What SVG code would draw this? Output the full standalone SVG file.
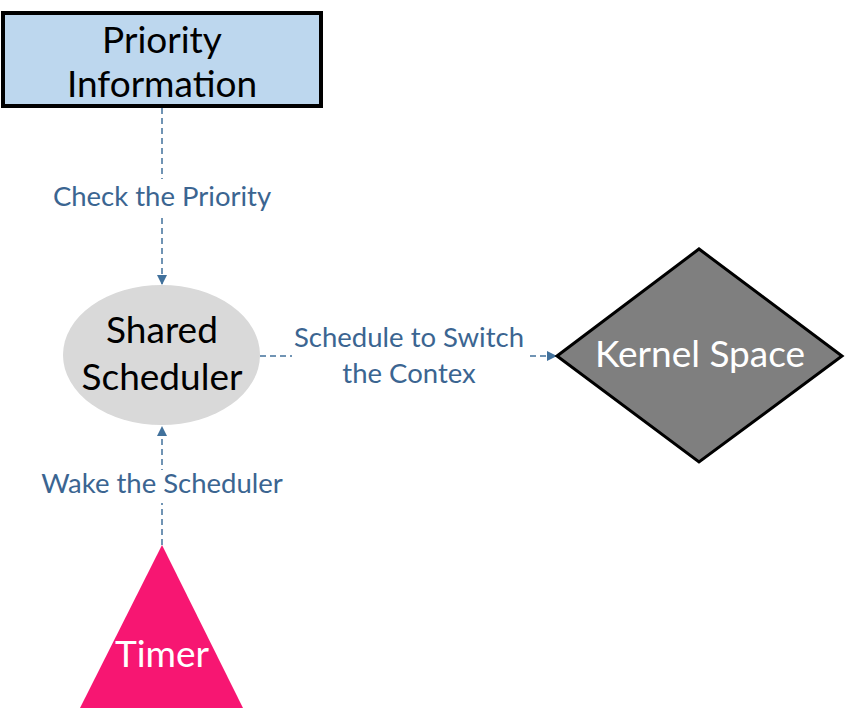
<svg xmlns="http://www.w3.org/2000/svg" width="845" height="710" viewBox="0 0 845 710">
<defs>
<style>
.lbl{font-family:Lato,"Open Sans","Liberation Sans",sans-serif;font-size:27.5px;fill:#3B6591;text-anchor:middle}
.nt{font-family:Lato,"Open Sans","Liberation Sans",sans-serif;font-size:37px;text-anchor:middle}
.conn{fill:none;stroke:#41719C;stroke-width:1.5;stroke-dasharray:6 4}
</style>
<marker id="arr" viewBox="0 0 10 10" refX="10" refY="5" markerWidth="10" markerHeight="10" markerUnits="userSpaceOnUse" orient="auto">
<path d="M0,0 L10,5 L0,10 z" fill="#41719C"/>
</marker>
</defs>
<rect width="845" height="710" fill="#fff"/>
<g id="connectors">
<line class="conn" x1="162" y1="108" x2="162" y2="285" marker-end="url(#arr)"/>
<line class="conn" x1="260" y1="356" x2="557" y2="356" marker-end="url(#arr)"/>
<line class="conn" x1="162" y1="545" x2="162" y2="426" marker-end="url(#arr)"/>
<rect x="50" y="179" width="224" height="38" fill="#fff"/>
<text class="lbl" x="162" y="206">Check the Priority</text>
<rect x="292" y="320" width="234" height="70" fill="#fff"/>
<text class="lbl" x="409" y="347">Schedule to Switch</text>
<text class="lbl" x="409" y="383">the Contex</text>
<rect x="36" y="470" width="252" height="33" fill="#fff"/>
<text class="lbl" x="162" y="493">Wake the Scheduler</text>
</g>
<g id="priority">
<rect x="3" y="13" width="318" height="93" fill="#BDD7EE" stroke="#000" stroke-width="4"/>
<text class="nt" x="162" y="53">Priority</text>
<text class="nt" x="162" y="97">Information</text>
</g>
<g id="scheduler">
<ellipse cx="161.5" cy="355" rx="98.5" ry="70" fill="#D9D9D9"/>
<text class="nt" x="162" y="343">Shared</text>
<text class="nt" x="162" y="390">Scheduler</text>
</g>
<g id="kernel">
<polygon points="557,356 699,249 842,356 699,462" fill="#7F7F7F" stroke="#000" stroke-width="3"/>
<text class="nt" x="700" y="367" fill="#fff">Kernel Space</text>
</g>
<g id="timer">
<polygon points="162,545 243,708 80,708" fill="#F71672"/>
<text class="nt" x="162" y="667" fill="#fff">Timer</text>
</g>
</svg>
